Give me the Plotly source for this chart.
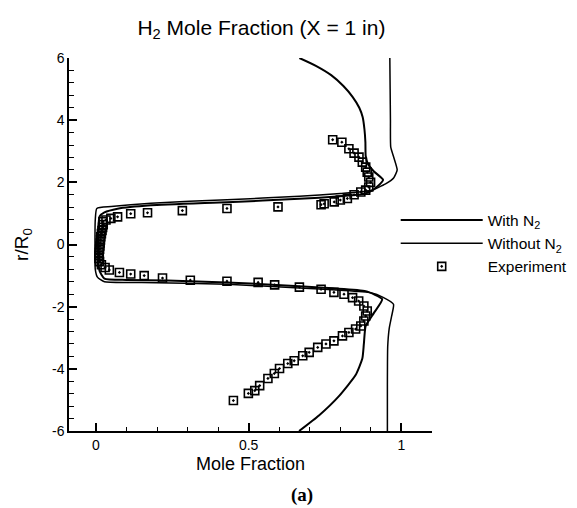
import plotly.graph_objects as go

# ---- data (x = mole fraction, r = r/R0) ----
with_n2_x = [0.666, 0.72, 0.77, 0.81, 0.84, 0.862, 0.873, 0.879, 0.882, 0.883, 0.89, 0.91, 0.94,
             0.925, 0.9, 0.87, 0.8, 0.666, 0.429, 0.18, 0.071, 0.028, 0.012, 0.008, 0.007,
             0.008, 0.012, 0.028, 0.1, 0.234, 0.429, 0.666, 0.775, 0.883, 0.937,
             0.91, 0.883, 0.877, 0.872, 0.85, 0.797, 0.73, 0.665]
with_n2_r = [6.0, 5.75, 5.45, 5.1, 4.75, 4.4, 4.1, 3.7, 3.3, 2.85, 2.6, 2.35, 2.08,
             1.9, 1.72, 1.62, 1.55, 1.47, 1.36, 1.26, 1.15, 1.03, 0.9, 0.5, 0.0,
             -0.5, -0.85, -1.1, -1.14, -1.16, -1.22, -1.34, -1.41, -1.5, -1.76,
             -2.2, -2.62, -3.2, -3.67, -4.2, -4.86, -5.5, -6.0]

without_n2_x = [0.962, 0.963, 0.964, 0.965, 0.975, 0.986, 0.975, 0.948, 0.9, 0.8, 0.666, 0.429,
                0.18, 0.05, 0.003, -0.002, -0.003, -0.002, 0.005, 0.028, 0.15, 0.429, 0.666,
                0.8, 0.9, 0.94, 0.974, 0.968, 0.96, 0.955, 0.954, 0.954]
without_n2_r = [6.0, 5.0, 4.0, 3.13, 2.8, 2.4, 2.15, 1.95, 1.74, 1.64, 1.55, 1.44,
                1.33, 1.22, 1.16, 0.8, 0.0, -0.8, -1.05, -1.2, -1.22, -1.28, -1.4,
                -1.47, -1.55, -1.7, -1.92, -2.3, -2.7, -3.3, -4.5, -6.0]

exp_x = [0.775, 0.805, 0.828, 0.845, 0.861, 0.872, 0.883, 0.888, 0.893, 0.899, 0.893, 0.883,
         0.867, 0.845, 0.823, 0.80, 0.78, 0.747, 0.737, 0.596, 0.429, 0.283, 0.169, 0.114,
         0.071, 0.049, 0.033, 0.023,
         0.024, 0.022, 0.02, 0.018, 0.016, 0.015, 0.014, 0.013, 0.012, 0.011, 0.01, 0.01, 0.012,
         0.018, 0.03, 0.044, 0.077, 0.114, 0.158, 0.218, 0.309, 0.429, 0.531, 0.585, 0.666,
         0.737, 0.779, 0.812, 0.84, 0.86, 0.877, 0.888, 0.883, 0.877, 0.867, 0.85, 0.828,
         0.807, 0.779, 0.753, 0.726, 0.698, 0.677, 0.649, 0.628, 0.601, 0.584, 0.563, 0.536,
         0.52, 0.499, 0.45]
exp_r = [3.37, 3.29, 3.08, 2.94, 2.81, 2.65, 2.49, 2.33, 2.17, 2.0, 1.85, 1.75,
         1.69, 1.6, 1.48, 1.43, 1.37, 1.31, 1.28, 1.21, 1.16, 1.09, 1.02, 0.99,
         0.89, 0.84, 0.79, 0.73,
         0.64, 0.55, 0.45, 0.35, 0.25, 0.15, 0.05, -0.05, -0.15, -0.25, -0.35, -0.45, -0.55,
         -0.65, -0.74, -0.82, -0.9, -0.95, -1.0, -1.08, -1.15, -1.18, -1.22, -1.3, -1.37,
         -1.44, -1.54, -1.6, -1.71, -1.82, -1.98, -2.14, -2.3, -2.46, -2.62, -2.72, -2.83,
         -2.94, -3.1, -3.2, -3.31, -3.47, -3.58, -3.74, -3.83, -3.99, -4.15, -4.31, -4.54,
         -4.7, -4.79, -5.02]

x_tick_vals = [0, 0.5, 1]
x_tick_text = ["0", "0.5", "1"]
y_tick_vals = [-6, -4, -2, 0, 2, 4, 6]
y_tick_text = ["-6", "-4", "-2", "0", "2", "4", "6"]

series_names = ["With N<sub>2</sub>", "Without N<sub>2</sub>", "Experiment"]

FONT = "Liberation Sans, Arial, sans-serif"

fig = go.Figure()
fig.add_trace(go.Scatter(x=with_n2_x, y=with_n2_r, mode="lines", name=series_names[0],
                         line=dict(color="black", width=2, shape="spline", smoothing=0.5)))
fig.add_trace(go.Scatter(x=without_n2_x, y=without_n2_r, mode="lines", name=series_names[1],
                         line=dict(color="black", width=1.5, shape="spline", smoothing=0.5)))
fig.add_trace(go.Scatter(x=exp_x, y=exp_r, mode="markers", name=series_names[2],
                         marker=dict(symbol="square-open-dot", size=8, color="black",
                                     line=dict(color="black", width=1.6))))

axis_common = dict(showgrid=False, zeroline=False, showline=True, linecolor="black",
                   linewidth=1.5, mirror=False, ticks="inside", tickcolor="black",
                   tickwidth=1.5, tickfont=dict(family=FONT, size=14, color="black"))

fig.update_xaxes(range=[-0.088, 1.10], tickmode="array", tickvals=x_tick_vals,
                 ticktext=x_tick_text, ticklen=8,
                 minor=dict(ticks="inside", dtick=0.1, tick0=0, ticklen=4,
                            tickcolor="black", tickwidth=1),
                 title=dict(text="Mole Fraction", font=dict(family=FONT, size=18, color="black"),
                            standoff=6),
                 **axis_common)
fig.update_yaxes(range=[-6, 6], tickmode="array", tickvals=y_tick_vals,
                 ticktext=y_tick_text, ticklen=8,
                 minor=dict(ticks="inside", dtick=0.4, tick0=0, ticklen=5,
                            tickcolor="black", tickwidth=1),
                 title=dict(text="r/R<sub>0</sub>", font=dict(family=FONT, size=19, color="black"),
                            standoff=18),
                 **axis_common)

fig.update_layout(
    width=577, height=508,
    margin=dict(l=61, r=150, t=50, b=85),
    paper_bgcolor="white", plot_bgcolor="white",
    title=dict(text="H<sub>2</sub> Mole Fraction (X = 1 in)", x=0.53, xref="paper",
               xanchor="center", y=0.962, yanchor="middle",
               font=dict(family=FONT, size=21, color="black")),
    legend=dict(x=0.9, y=0.61, xanchor="left", yanchor="top",
                font=dict(family=FONT, size=15.5, color="black"),
                bgcolor="rgba(0,0,0,0)", itemwidth=82, tracegroupgap=0),
    annotations=[dict(text="<b>(a)</b>", xref="paper", yref="paper",
                      x=(296 - 61) / 366, y=-(487 - 423) / 373, xanchor="center",
                      yanchor="middle", showarrow=False,
                      font=dict(family="Liberation Serif, Times New Roman, serif",
                                size=19, color="black"))],
)

fig.write_html("out.html")
